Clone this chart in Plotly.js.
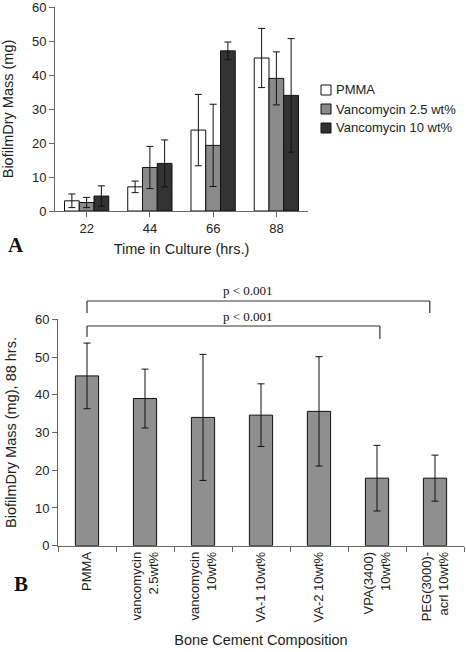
<!DOCTYPE html>
<html>
<head>
<meta charset="utf-8">
<script src="https://cdn.plot.ly/plotly-3.0.1.min.js"></script>
<style>html,body{margin:0;padding:0;background:#fff;}#chart{width:466px;height:652px;}</style>
</head>
<body>
<div id="chart"></div>
<script>
// Panel A data
const timeCategories = ["22", "44", "66", "88"];
const pmmaMass = [3.0, 7.1, 23.8, 45.0];
const pmmaErr = [2.0, 1.7, 10.5, 8.7];
const vanc25Mass = [2.5, 12.8, 19.3, 39.0];
const vanc25Err = [1.5, 6.2, 12.1, 7.8];
const vanc10Mass = [4.4, 14.0, 47.1, 34.0];
const vanc10Err = [3.0, 6.9, 2.6, 16.7];
const seriesNames = ["PMMA", "Vancomycin 2.5 wt%", "Vancomycin 10 wt%"];
const seriesColors = ["#ffffff", "#8a8a8a", "#333333"];

// Panel B data
const compositions = ["PMMA", "vancomycin<br>2.5wt%", "vancomycin<br>10wt%", "VA-1 10wt%", "VA-2 10wt%", "VPA(3400)<br>10wt%", "PEG(3000)-<br>acrl 10wt%"];
const mass88 = [45.0, 39.0, 34.0, 34.6, 35.6, 17.9, 17.9];
const err88 = [8.7, 7.8, 16.7, 8.3, 14.5, 8.7, 6.1];
const pLabel = "p < 0.001";

const W = 466, H = 652;
const px = v => v / W;
const py = v => (H - v) / H;

const errStyle = (arr) => ({type: "data", array: arr, visible: true, color: "#111", thickness: 1, width: 3.5});
const barLine = {color: "#111", width: 1};

const traces = [
  {type: "bar", x: timeCategories, y: pmmaMass, name: seriesNames[0], marker: {color: seriesColors[0], line: barLine}, error_y: errStyle(pmmaErr), xaxis: "x", yaxis: "y"},
  {type: "bar", x: timeCategories, y: vanc25Mass, name: seriesNames[1], marker: {color: seriesColors[1], line: barLine}, error_y: errStyle(vanc25Err), xaxis: "x", yaxis: "y"},
  {type: "bar", x: timeCategories, y: vanc10Mass, name: seriesNames[2], marker: {color: seriesColors[2], line: barLine}, error_y: errStyle(vanc10Err), xaxis: "x", yaxis: "y"},
  {type: "bar", x: compositions, y: mass88, name: "88 hrs.", marker: {color: "#8f8f8f", line: barLine}, error_y: errStyle(err88), xaxis: "x2", yaxis: "y2", width: 0.4}
];

const sans = "Liberation Sans, Arial, sans-serif";
const serif = "Liberation Serif, Times New Roman, serif";
const tickFont = {family: sans, size: 13, color: "#222"};
const titleFont = {family: sans, size: 14.5, color: "#222"};
const axisCommon = {showline: true, linecolor: "#666", linewidth: 1, ticks: "outside", ticklen: 5, tickcolor: "#666", showgrid: false, zeroline: false, tickfont: tickFont, fixedrange: true, ticklabeloverflow: "allow"};

const annotations = [
  {text: "<b>A</b>", xref: "paper", yref: "paper", x: px(6), y: py(245), xanchor: "left", yanchor: "middle", showarrow: false, font: {family: serif, size: 21, color: "#111"}},
  {text: "<b>B</b>", xref: "paper", yref: "paper", x: px(12), y: py(584), xanchor: "left", yanchor: "middle", showarrow: false, font: {family: serif, size: 21, color: "#111"}},
  {text: pLabel, xref: "x2", yref: "paper", x: 2.78, y: py(290), showarrow: false, font: {family: serif, size: 13, color: "#111"}},
  {text: pLabel, xref: "x2", yref: "paper", x: 2.78, y: py(316.5), showarrow: false, font: {family: serif, size: 13, color: "#111"}}
];
const shapes = [];
// custom legend for panel A
const legendRows = [90, 109, 128];
seriesNames.forEach((name, i) => {
  shapes.push({type: "rect", xref: "paper", yref: "paper", x0: px(321), x1: px(331), y0: py(legendRows[i] + 5), y1: py(legendRows[i] - 5), fillcolor: seriesColors[i], line: {color: "#111", width: 1}});
  annotations.push({text: name, xref: "paper", yref: "paper", x: px(334), y: py(legendRows[i]), xanchor: "left", yanchor: "middle", showarrow: false, font: {family: sans, size: 13, color: "#222"}});
});

// significance brackets
const brk = (x0, x1, yTop, yL, yR) => [
  {type: "line", xref: "x2", yref: "paper", x0: x0, x1: x0, y0: py(yL), y1: py(yTop), line: {color: "#333", width: 1.2}},
  {type: "line", xref: "x2", yref: "paper", x0: x0, x1: x1, y0: py(yTop), y1: py(yTop), line: {color: "#333", width: 1.2}},
  {type: "line", xref: "x2", yref: "paper", x0: x1, x1: x1, y0: py(yTop), y1: py(yR), line: {color: "#333", width: 1.2}}
];
shapes.push(...brk(0, 5.91, 301, 313, 313), ...brk(0, 5.05, 326, 337, 339));

const layout = {
  width: W, height: H,
  margin: {l: 0, r: 0, t: 0, b: 0},
  paper_bgcolor: "#fff", plot_bgcolor: "#fff",
  barmode: "group", bargap: 0.3, bargroupgap: 0,
  showlegend: false,
  xaxis: Object.assign({}, axisCommon, {domain: [px(55), px(308)], anchor: "y", tickson: "boundaries", title: {text: "Time in Culture (hrs.)", font: titleFont, standoff: 9}}),
  yaxis: Object.assign({}, axisCommon, {domain: [py(211), py(7)], anchor: "x", range: [0, 60], dtick: 10, title: {text: "BiofilmDry Mass (mg)", font: titleFont, standoff: 14}}),
  xaxis2: Object.assign({}, axisCommon, {domain: [px(58), px(464)], anchor: "y2", tickson: "boundaries", tickangle: -90, title: {text: "Bone Cement Composition", font: titleFont, standoff: 13}}),
  yaxis2: Object.assign({}, axisCommon, {domain: [py(545.7), py(319.3)], anchor: "x2", range: [0, 60], dtick: 10, title: {text: "BiofilmDry Mass (mg), 88 hrs.", font: titleFont, standoff: 14}}),
  shapes: shapes,
  annotations: annotations
};

Plotly.newPlot("chart", traces, layout, {staticPlot: true, displayModeBar: false});
</script>
</body>
</html>
